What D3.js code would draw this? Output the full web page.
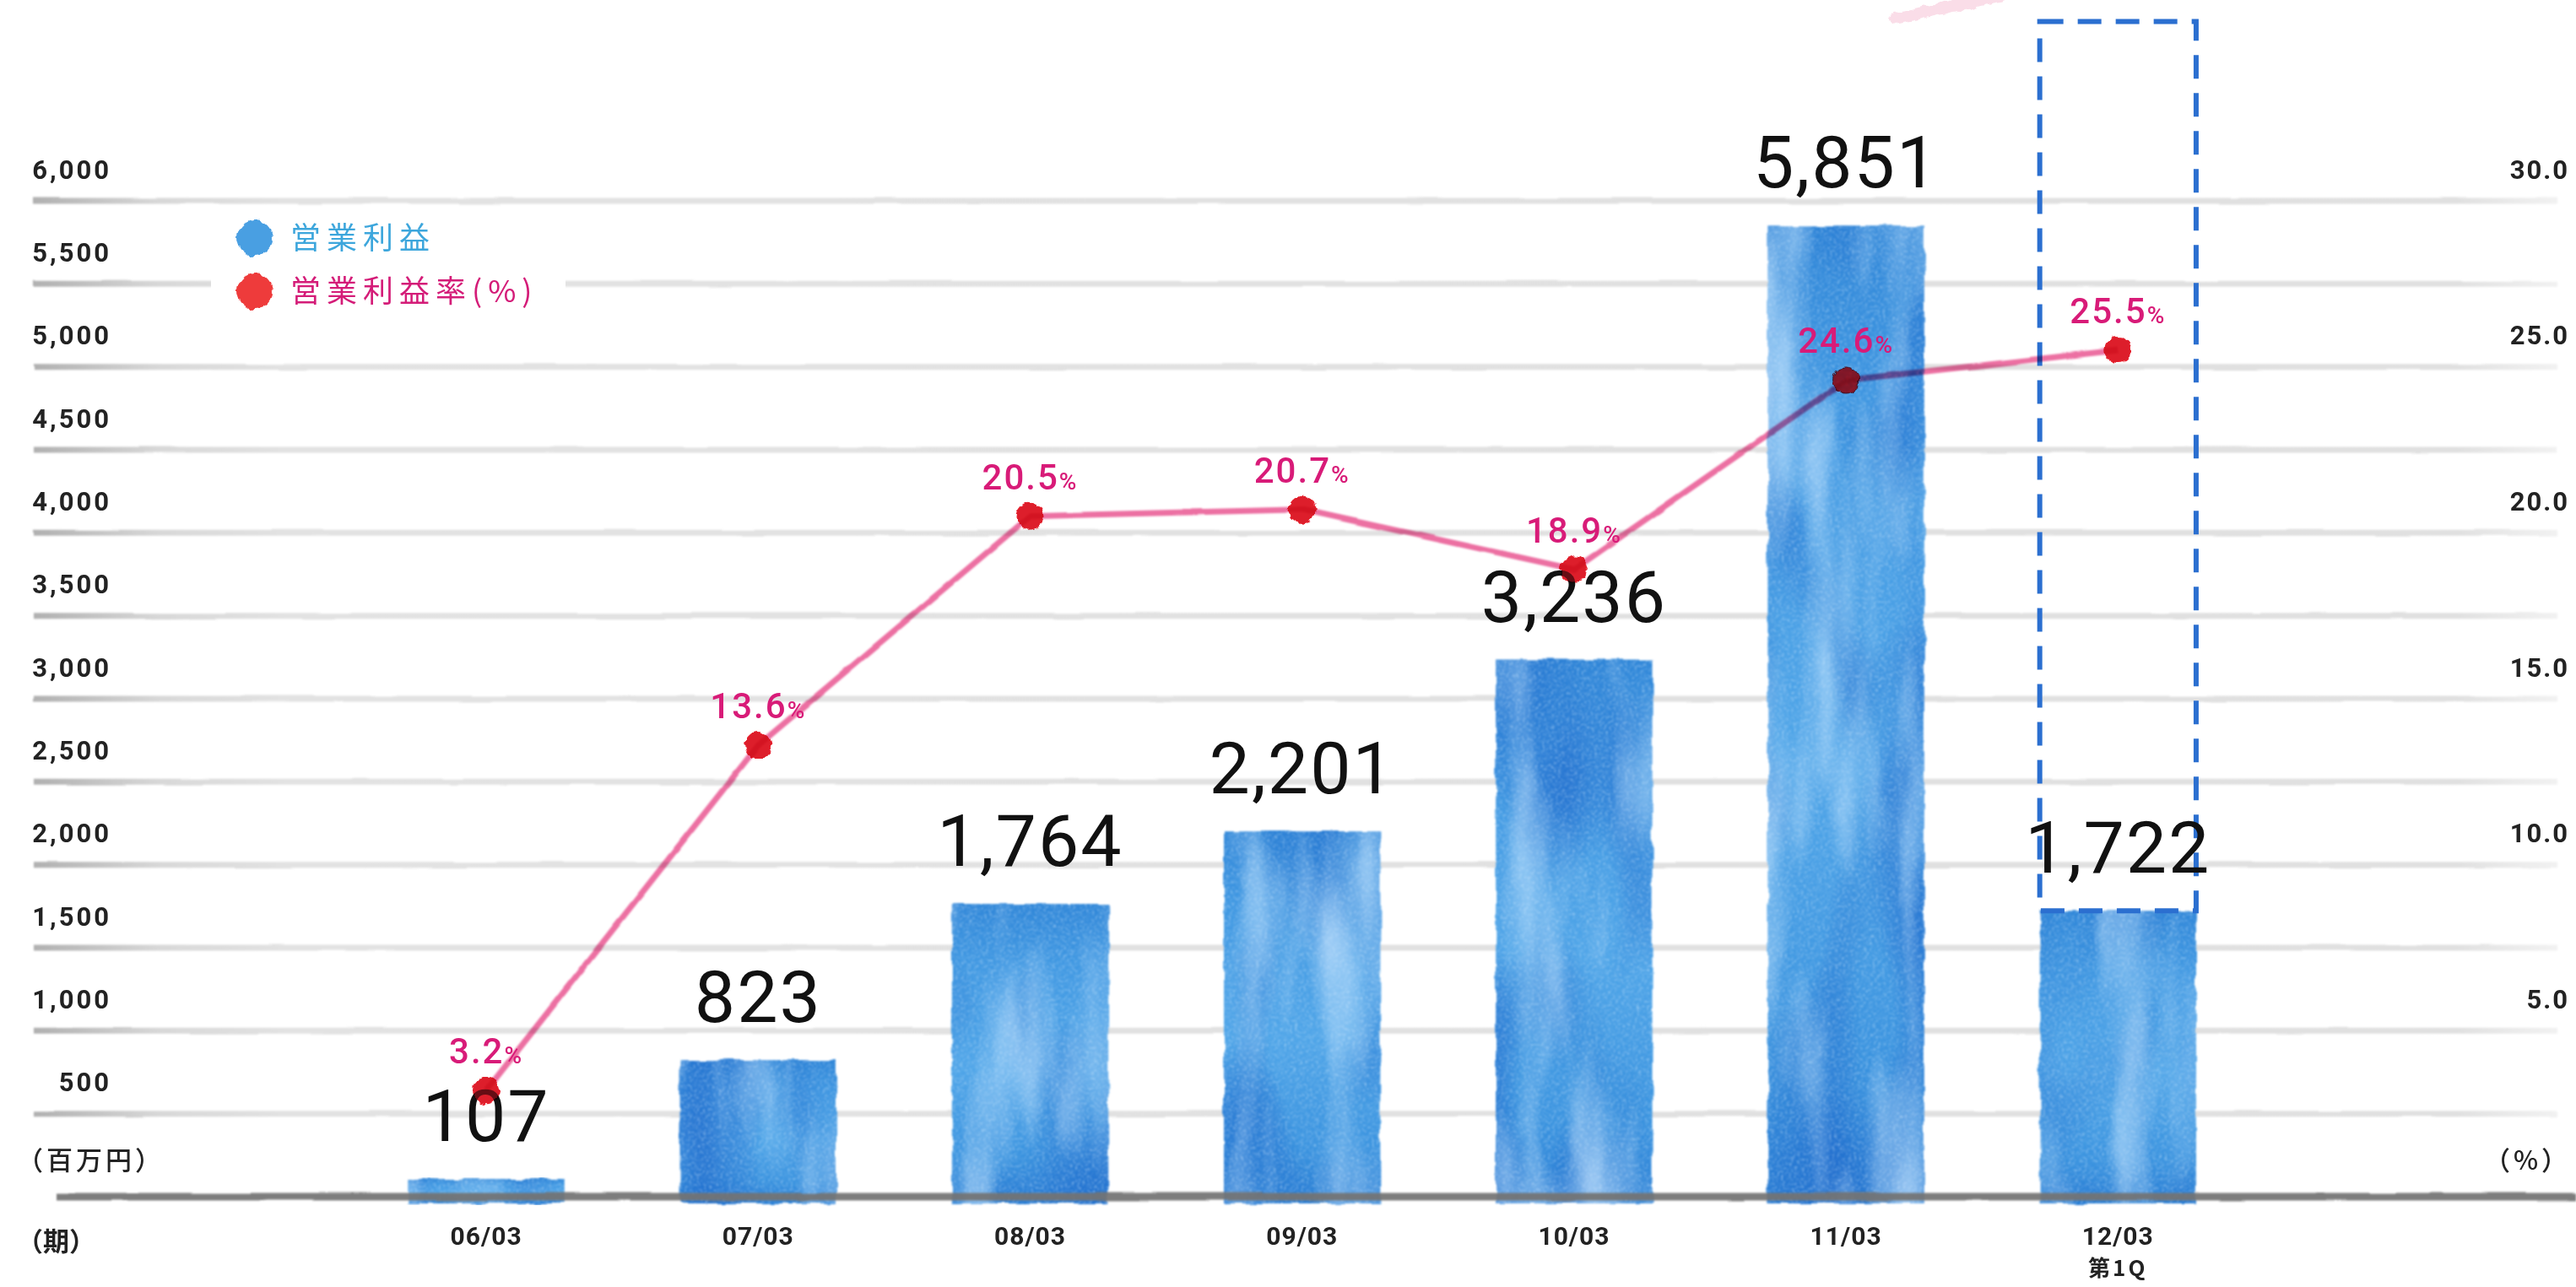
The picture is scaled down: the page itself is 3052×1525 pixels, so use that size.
<!DOCTYPE html>
<html lang="ja">
<head>
<meta charset="utf-8">
<title>営業利益・営業利益率</title>
<script src="https://cdn.jsdelivr.net/npm/d3@7"></script>
<style>
  html, body { margin: 0; padding: 0; background: #ffffff; }
  svg { display: block; }
  .num { font-family: Roboto, "DejaVu Sans", sans-serif; }
  .jp { font-family: "Noto Sans CJK JP", "Noto Sans", sans-serif; }
</style>
</head>
<body>
<svg id="chart" width="3052" height="1525"></svg>
<script>
// Fiscal periods and their operating profit (百万円) / operating margin (%)
const categories = ["06/03", "07/03", "08/03", "09/03", "10/03", "11/03", "12/03"];
const subLabels = ["", "", "", "", "", "", "第1Q"];
const operatingProfit = [107, 823, 1764, 2201, 3236, 5851, 1722];
const operatingMargin = [3.2, 13.6, 20.5, 20.7, 18.9, 24.6, 25.5];
const profitLabels = ["107", "823", "1,764", "2,201", "3,236", "5,851", "1,722"];
const marginLabels = ["3.2", "13.6", "20.5", "20.7", "18.9", "24.6", "25.5"];

// Axis ticks
const leftTicks = [500, 1000, 1500, 2000, 2500, 3000, 3500, 4000, 4500, 5000, 5500, 6000];
const rightTicks = [5, 10, 15, 20, 25, 30];

// Full-year outline drawn around the first-quarter bar
const outlineCategory = "12/03";
const outlineValue = 7080;

// Legend entries
const legendItems = [
  { label: "営業利益", text: "#3da6dc", dot: "#4a9fe2" },
  { label: "営業利益率(%)", text: "#d41c78", dot: "#ee3b3b" }
];

const W = 3052, H = 1525;
const svg = d3.select("#chart");

const x = d3.scaleBand()
  .domain(categories)
  .range([415, 415 + 7 * 322.2])
  .paddingInner(0.425)
  .paddingOuter(0.2125);

const y = d3.scaleLinear().domain([0, 6000]).range([1418, 238]);
const yPct = d3.scaleLinear().domain([0, 30]).range([1418, 238]);

// ---------- filters and paints ----------
const defs = svg.append("defs");

const barGrad = defs.append("linearGradient")
  .attr("id", "barFill").attr("x1", 0).attr("y1", 0).attr("x2", 0).attr("y2", 1);
[[0, "#2f86d8"], [0.2, "#4098e2"], [0.55, "#4fa5e8"], [0.85, "#3a93df"], [1, "#2a7fd5"]]
  .forEach(([o, c]) => barGrad.append("stop").attr("offset", o).attr("stop-color", c));

// watercolour wash: soft light streaks, darker pools, fine grain, ragged edges
const paint = defs.append("filter").attr("id", "paint")
  .attr("x", "-8%").attr("y", "-5%").attr("width", "116%").attr("height", "110%")
  .attr("color-interpolation-filters", "sRGB");
paint.append("feTurbulence").attr("type", "fractalNoise")
  .attr("baseFrequency", "0.014 0.003").attr("numOctaves", 3).attr("seed", 4).attr("result", "blotch");
paint.append("feColorMatrix").attr("in", "blotch").attr("type", "matrix")
  .attr("values", "0 0 0 0 0.78  0 0 0 0 0.9  0 0 0 0 1  1.9 0 0 0 -0.86").attr("result", "light");
paint.append("feComposite").attr("in", "light").attr("in2", "SourceGraphic").attr("operator", "in").attr("result", "lightIn");
paint.append("feTurbulence").attr("type", "fractalNoise")
  .attr("baseFrequency", "0.01 0.004").attr("numOctaves", 2).attr("seed", 11).attr("result", "shade");
paint.append("feColorMatrix").attr("in", "shade").attr("type", "matrix")
  .attr("values", "0 0 0 0 0.12  0 0 0 0 0.42  0 0 0 0 0.8  0 2.0 0 0 -0.9").attr("result", "dark");
paint.append("feComposite").attr("in", "dark").attr("in2", "SourceGraphic").attr("operator", "in").attr("result", "darkIn");
paint.append("feTurbulence").attr("type", "fractalNoise")
  .attr("baseFrequency", "0.35").attr("numOctaves", 2).attr("seed", 9).attr("result", "grain");
paint.append("feColorMatrix").attr("in", "grain").attr("type", "matrix")
  .attr("values", "0 0 0 0 0.85  0 0 0 0 0.93  0 0 0 0 1  1.2 0 0 0 -0.55").attr("result", "grainC");
paint.append("feComposite").attr("in", "grainC").attr("in2", "SourceGraphic").attr("operator", "in").attr("result", "grainIn");
const pm = paint.append("feMerge").attr("result", "painted");
["SourceGraphic", "darkIn", "lightIn", "grainIn"].forEach(n => pm.append("feMergeNode").attr("in", n));
paint.append("feTurbulence").attr("type", "fractalNoise")
  .attr("baseFrequency", "0.04").attr("numOctaves", 2).attr("seed", 2).attr("result", "edge");
paint.append("feDisplacementMap").attr("in", "painted").attr("in2", "edge")
  .attr("scale", 7).attr("xChannelSelector", "R").attr("yChannelSelector", "G").attr("result", "ragged");
paint.append("feGaussianBlur").attr("in", "ragged").attr("stdDeviation", 1.2);

// soft pencil-like stroke for rules (user-space region so flat lines still render)
const rough = defs.append("filter").attr("id", "rough")
  .attr("filterUnits", "userSpaceOnUse")
  .attr("x", -50).attr("y", -50).attr("width", W + 100).attr("height", H + 100);
rough.append("feTurbulence").attr("type", "fractalNoise")
  .attr("baseFrequency", "0.01 0.05").attr("numOctaves", 2).attr("seed", 5).attr("result", "n");
rough.append("feDisplacementMap").attr("in", "SourceGraphic").attr("in2", "n")
  .attr("scale", 3).attr("xChannelSelector", "R").attr("yChannelSelector", "G").attr("result", "d");
rough.append("feGaussianBlur").attr("in", "d").attr("stdDeviation", 1.3);

// soft blob for legend swatches and dots
const blob = defs.append("filter").attr("id", "blob")
  .attr("filterUnits", "userSpaceOnUse")
  .attr("x", -400).attr("y", -400).attr("width", W + 800).attr("height", H + 800);
blob.append("feTurbulence").attr("type", "fractalNoise")
  .attr("baseFrequency", "0.12").attr("numOctaves", 2).attr("seed", 3).attr("result", "n");
blob.append("feDisplacementMap").attr("in", "SourceGraphic").attr("in2", "n")
  .attr("scale", 7).attr("xChannelSelector", "R").attr("yChannelSelector", "G");

const ruleGrad = defs.append("linearGradient").attr("id", "ruleFill")
  .attr("gradientUnits", "userSpaceOnUse").attr("x1", 40).attr("x2", 3030).attr("y1", 0).attr("y2", 0);
[[0, "#b0b0b0"], [0.05, "#d8d8d8"], [0.1, "#e2e2e2"], [0.96, "#e0e0e0"], [1, "#f2f2f2"]]
  .forEach(([o, c]) => ruleGrad.append("stop").attr("offset", o).attr("stop-color", c));

// ---------- grid rules ----------
svg.append("g").attr("class", "grid")
  .selectAll("line").data(leftTicks).join("line")
  .attr("x1", 40).attr("x2", 3030)
  .attr("y1", d => y(d)).attr("y2", d => y(d))
  .attr("stroke", "url(#ruleFill)").attr("stroke-width", 7)
  .attr("filter", "url(#rough)");

// ---------- axis labels ----------
const leftAxis = d3.axisLeft(y).tickValues(leftTicks).tickSize(0).tickFormat(d3.format(","));
svg.append("g").attr("transform", "translate(132,-27)").call(leftAxis)
  .call(g => g.select(".domain").remove())
  .call(g => g.selectAll("text")
    .attr("x", 0).attr("dy", 0)
    .attr("class", "num").attr("font-size", 31).attr("font-weight", 700)
    .attr("letter-spacing", 3).attr("fill", "#222"));

const rightAxis = d3.axisRight(yPct).tickValues(rightTicks).tickSize(0).tickFormat(d3.format(".1f"));
svg.append("g").attr("transform", "translate(3044,-27)").call(rightAxis)
  .call(g => g.select(".domain").remove())
  .call(g => g.selectAll("text")
    .attr("x", 0).attr("dy", 0).attr("text-anchor", "end")
    .attr("class", "num").attr("font-size", 31).attr("font-weight", 700)
    .attr("letter-spacing", 2).attr("fill", "#222"));

svg.append("text").attr("class", "jp").attr("x", 20).attr("y", 1386)
  .attr("font-size", 31).attr("font-weight", 500).attr("letter-spacing", 4).attr("fill", "#222")
  .text("（百万円）");
svg.append("text").attr("class", "jp").attr("x", 20).attr("y", 1482)
  .attr("font-size", 31).attr("font-weight", 700).attr("fill", "#222")
  .text("（期）");
svg.append("text").attr("class", "jp").attr("x", 3046).attr("y", 1386).attr("text-anchor", "end")
  .attr("font-size", 31).attr("font-weight", 500).attr("letter-spacing", 4).attr("fill", "#222")
  .text("（%）");

// ---------- legend ----------
svg.append("rect").attr("x", 250).attr("y", 252).attr("width", 420).attr("height", 126).attr("fill", "#ffffff");
const legend = svg.append("g").selectAll("g").data(legendItems).join("g")
  .attr("transform", (d, i) => `translate(302,${282 + i * 63})`);
legend.append("circle").attr("r", 21).attr("fill", d => d.dot).attr("filter", "url(#blob)");
legend.append("text").attr("class", "jp").attr("x", 42).attr("dy", "0.35em")
  .attr("font-size", 36).attr("letter-spacing", 7).attr("fill", d => d.text)
  .text(d => d.label);

// ---------- bars ----------
const base = y(0);
svg.append("g").attr("class", "bars")
  .selectAll("rect").data(operatingProfit).join("rect")
  .attr("x", (d, i) => x(categories[i]))
  .attr("width", x.bandwidth())
  .attr("y", d => y(d))
  .attr("height", d => base - y(d) + 8)
  .attr("fill", "url(#barFill)")
  .attr("filter", "url(#paint)");

// baseline
svg.append("line").attr("x1", 67).attr("x2", W).attr("y1", base).attr("y2", base)
  .attr("stroke", "#737373").attr("stroke-width", 9).attr("opacity", 0.92)
  .attr("filter", "url(#rough)");

// full-year outline around the quarter bar
const oi = categories.indexOf(outlineCategory);
svg.append("rect")
  .attr("x", x(outlineCategory)).attr("width", x.bandwidth())
  .attr("y", y(outlineValue)).attr("height", y(operatingProfit[oi]) - y(outlineValue))
  .attr("fill", "none").attr("stroke", "#2b6fd0").attr("stroke-width", 6)
  .attr("stroke-dasharray", "28 17");

// decorative brush mark at the top edge
svg.append("path").attr("d", "M2245,22 C2290,12 2330,4 2372,-6")
  .attr("stroke", "#f3a0bf").attr("stroke-width", 14).attr("stroke-linecap", "round")
  .attr("fill", "none").attr("opacity", 0.35).attr("filter", "url(#blob)");

// ---------- value labels ----------
svg.append("g").selectAll("text").data(operatingProfit).join("text")
  .attr("class", "num")
  .attr("x", (d, i) => x(categories[i]) + x.bandwidth() / 2)
  .attr("y", d => y(d) - 45)
  .attr("text-anchor", "middle").attr("font-size", 86).attr("letter-spacing", 2)
  .attr("fill", "#111")
  .text((d, i) => profitLabels[i]);

// ---------- margin line ----------
const cx = (d, i) => x(categories[i]) + x.bandwidth() / 2;
const lineGen = d3.line().x((d, i) => cx(d, i)).y(d => yPct(d));
const lineLayer = svg.append("g").style("mix-blend-mode", "multiply");
lineLayer.append("path").datum(operatingMargin)
  .attr("d", lineGen).attr("fill", "none")
  .attr("stroke", "#ec6fa2").attr("stroke-width", 7).attr("stroke-linejoin", "round")
  .attr("filter", "url(#rough)");
// dots: a multiplied layer plus a translucent red wash keeps the one over the bar dark red
const dotLayer = svg.append("g");
dotLayer.append("g").style("mix-blend-mode", "multiply")
  .selectAll("circle").data(operatingMargin).join("circle")
  .attr("cx", cx).attr("cy", d => yPct(d)).attr("r", 16)
  .attr("fill", "#e8202e").attr("filter", "url(#blob)");
dotLayer.append("g").attr("opacity", 0.45)
  .selectAll("circle").data(operatingMargin).join("circle")
  .attr("cx", cx).attr("cy", d => yPct(d)).attr("r", 15)
  .attr("fill", "#d01f2c").attr("filter", "url(#blob)");

const pct = svg.append("g").selectAll("text").data(operatingMargin).join("text")
  .attr("class", "num")
  .attr("x", cx).attr("y", d => yPct(d) - 32)
  .attr("text-anchor", "middle").attr("font-size", 42).attr("font-weight", 500)
  .attr("letter-spacing", 2).attr("fill", "#d81b78");
pct.append("tspan").text((d, i) => marginLabels[i]);
pct.append("tspan").attr("font-size", 28).text("%");

// ---------- category labels ----------
const xAxis = d3.axisBottom(x).tickSize(0);
svg.append("g").attr("transform", `translate(0,1475)`).call(xAxis)
  .call(g => g.select(".domain").remove())
  .call(g => g.selectAll("text")
    .attr("y", 0).attr("dy", 0)
    .attr("class", "num").attr("font-size", 30).attr("font-weight", 700)
    .attr("letter-spacing", 1).attr("fill", "#222"));

svg.append("g").selectAll("text").data(subLabels).join("text")
  .attr("class", "jp")
  .attr("x", (d, i) => x(categories[i]) + x.bandwidth() / 2)
  .attr("y", 1512).attr("text-anchor", "middle")
  .attr("font-size", 26).attr("font-weight", 700).attr("letter-spacing", 3).attr("fill", "#222")
  .text(d => d);
</script>
</body>
</html>
